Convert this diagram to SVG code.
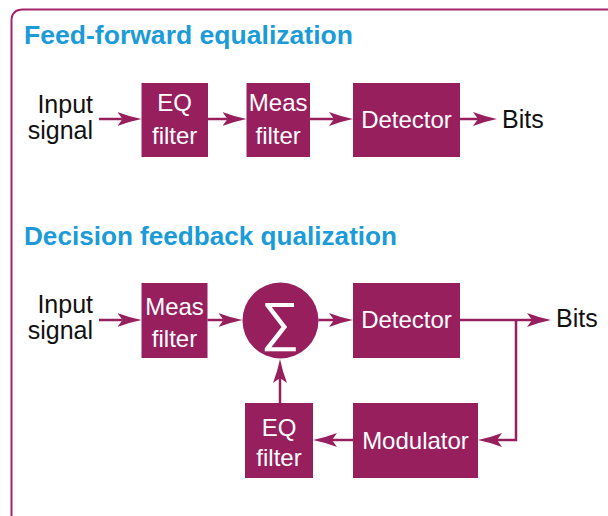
<svg xmlns="http://www.w3.org/2000/svg" width="608" height="516" viewBox="0 0 608 516">
  <style>
    .box { fill: #971f5e; }
    .lbl { font-family: "Liberation Sans", Arial, sans-serif; font-size: 24px; fill: #ffffff; text-anchor: middle; }
    .io { font-family: "Liberation Sans", Arial, sans-serif; font-size: 25px; fill: #111111; }
    .title { font-family: "Liberation Sans", Arial, sans-serif; font-size: 26px; font-weight: bold; fill: #1b9bd7; }
    .wire { fill: none; stroke: #971f5e; stroke-width: 2.5; }
  </style>
  <defs>
    <marker id="head" viewBox="0 0 24 14" markerWidth="24" markerHeight="14" refX="5" refY="7" orient="auto" markerUnits="userSpaceOnUse">
      <path d="M24,7 Q12,4.6 0,0 L5,7 L0,14 Q12,9.4 24,7 Z" fill="#971f5e"/>
    </marker>
  </defs>

  <rect width="608" height="516" fill="#ffffff"/>

  <!-- outer panel frame -->
  <path d="M11.5,516 V21 Q11.5,9.5 23,9.5 H608" fill="none" stroke="#a3246a" stroke-width="2"/>

  <!-- section titles -->
  <text class="title" x="24" y="44" textLength="329" lengthAdjust="spacingAndGlyphs">Feed-forward equalization</text>
  <text class="title" x="24" y="245" textLength="373" lengthAdjust="spacingAndGlyphs">Decision feedback qualization</text>

  <!-- feed-forward chain -->
  <g id="ff-input">
    <text class="io" x="93" y="113" text-anchor="end">Input</text>
    <text class="io" x="93" y="139" text-anchor="end">signal</text>
  </g>
  <g id="ff-eq">
    <rect class="box" x="141.5" y="83" width="66.5" height="74"/>
    <text class="lbl" x="174.7" y="111">EQ</text>
    <text class="lbl" x="174.7" y="144">filter</text>
  </g>
  <g id="ff-meas">
    <rect class="box" x="246.5" y="83" width="63.5" height="74"/>
    <text class="lbl" x="278.2" y="111">Meas</text>
    <text class="lbl" x="278.2" y="144">filter</text>
  </g>
  <g id="ff-detector">
    <rect class="box" x="353" y="83" width="107" height="74"/>
    <text class="lbl" x="406.5" y="128">Detector</text>
  </g>
  <g id="ff-bits">
    <text class="io" x="502" y="128">Bits</text>
  </g>

  <!-- decision feedback loop -->
  <g id="dfe-input">
    <text class="io" x="93" y="313" text-anchor="end">Input</text>
    <text class="io" x="93" y="339" text-anchor="end">signal</text>
  </g>
  <g id="dfe-meas">
    <rect class="box" x="141.5" y="283" width="66" height="75"/>
    <text class="lbl" x="174.5" y="315">Meas</text>
    <text class="lbl" x="174.5" y="347">filter</text>
  </g>
  <g id="dfe-sum">
    <circle class="box" cx="280.5" cy="320.5" r="38"/>
    <text class="lbl" x="280" y="340" style="font-size:54px">∑</text>
  </g>
  <g id="dfe-detector">
    <rect class="box" x="353" y="283" width="107" height="75"/>
    <text class="lbl" x="406.5" y="328">Detector</text>
  </g>
  <g id="dfe-bits">
    <text class="io" x="556" y="327">Bits</text>
  </g>
  <g id="dfe-modulator">
    <rect class="box" x="353" y="403" width="125" height="75"/>
    <text class="lbl" x="415.5" y="449">Modulator</text>
  </g>
  <g id="dfe-eq">
    <rect class="box" x="245" y="403" width="68" height="75"/>
    <text class="lbl" x="279" y="436">EQ</text>
    <text class="lbl" x="279" y="466">filter</text>
  </g>

  <!-- connectors -->
  <g id="connectors">
    <line class="wire" x1="99" y1="119" x2="122.5" y2="119" marker-end="url(#head)"/>
    <line class="wire" x1="208" y1="119" x2="227.5" y2="119" marker-end="url(#head)"/>
    <line class="wire" x1="310" y1="119" x2="334" y2="119" marker-end="url(#head)"/>
    <line class="wire" x1="460" y1="119" x2="478" y2="119" marker-end="url(#head)"/>

    <line class="wire" x1="99" y1="320" x2="122.5" y2="320" marker-end="url(#head)"/>
    <line class="wire" x1="207.5" y1="320" x2="223.5" y2="320" marker-end="url(#head)"/>
    <line class="wire" x1="318.5" y1="320" x2="334" y2="320" marker-end="url(#head)"/>
    <line class="wire" x1="460" y1="320" x2="532" y2="320" marker-end="url(#head)"/>
    <path class="wire" d="M516,320 V440 H497" marker-end="url(#head)"/>
    <line class="wire" x1="353" y1="440" x2="332" y2="440" marker-end="url(#head)"/>
    <line class="wire" x1="280" y1="403" x2="280" y2="378" marker-end="url(#head)"/>
  </g>
</svg>
